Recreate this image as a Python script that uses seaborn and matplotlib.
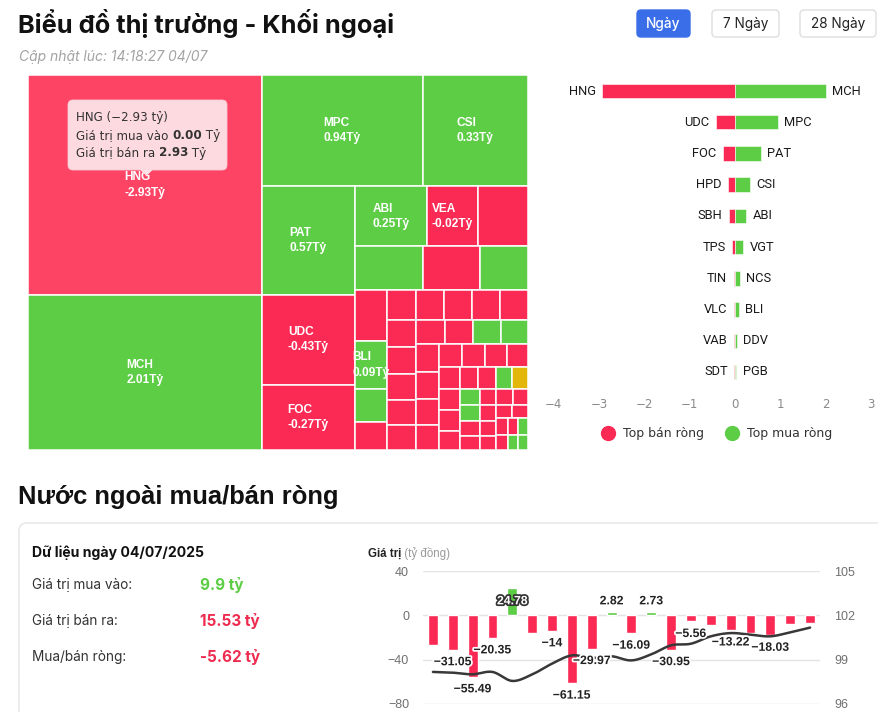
import numpy as np
import pandas as pd
import matplotlib
matplotlib.use("Agg")
import matplotlib.pyplot as plt
import seaborn as sns
from matplotlib.patches import Rectangle, FancyBboxPatch, Polygon
from matplotlib.lines import Line2D
import matplotlib.patheffects as pe

# ---------------- data ----------------
title_main = "Biểu đồ thị trường - Khối ngoại"
updated_text = "Cập nhật lúc: 14:18:27 04/07"
range_buttons = ["Ngày", "7 Ngày", "28 Ngày"]
section_title = "Nước ngoài mua/bán ròng"

# treemap: named (labelled) cells
tm_names = ["HNG", "MCH", "MPC", "CSI", "PAT", "UDC", "FOC", "ABI", "VEA", "BLI"]
tm_net = [-2.93, 2.01, 0.94, 0.33, 0.57, -0.43, -0.27, 0.25, -0.02, 0.09]
tm_size = [52800, 37200, 18300, 12000, 10416, 8649, 6231, 4473, 3213, 1568]
# treemap: small unlabelled cells (size, net)
tm_other_size = [3087, 3060, 2520, 2160, 1665, 1092, 900, 880, 868, 860, 858, 840, 820, 800,
                 780, 760, 740, 720, 700, 690, 670, 650, 630, 610, 590, 570, 550, 530, 510,
                 490, 470, 450, 430, 410, 390, 370, 350, 330, 310, 300, 290, 280, 270, 260,
                 250, 240, 230, 220, 210, 200, 190, 180, 170, 160, 155]
tm_other_net = [-0.05, 0.06, -0.04, 0.05, -0.03, 0.03, -0.02, -0.02, -0.02, -0.02, -0.02, -0.02,
                -0.02, -0.02, -0.02, -0.02, -0.02, -0.02, -0.01, 0.02, 0.02, -0.01, -0.01, -0.01,
                -0.01, -0.01, -0.01, -0.01, -0.01, -0.01, -0.01, -0.01, -0.01, -0.01, -0.01, 0.01,
                0.0, 0.01, 0.01, -0.01, -0.01, -0.01, -0.01, -0.01, -0.01, -0.01, -0.01, -0.01,
                -0.01, -0.01, -0.01, -0.01, 0.01, 0.01, 0.01]
tm_hover = "HNG"
tooltip_buy = 0.00
tooltip_sell = 2.93

# butterfly bars
sell_names = ["HNG", "UDC", "FOC", "HPD", "SBH", "TPS", "TIN", "VLC", "VAB", "SDT"]
sell_values = [-2.93, -0.43, -0.27, -0.16, -0.14, -0.07, -0.03, -0.03, -0.02, -0.02]
buy_names = ["MCH", "MPC", "PAT", "CSI", "ABI", "VGT", "NCS", "BLI", "DDV", "PGB"]
buy_values = [2.01, 0.94, 0.57, 0.33, 0.25, 0.18, 0.11, 0.09, 0.04, 0.03]
bar_ticks = [-4, -3, -2, -1, 0, 1, 2, 3]
legend_labels = ["Top bán ròng", "Top mua ròng"]

# daily summary
summary_title = "Dữ liệu ngày 04/07/2025"
summary_labels = ["Giá trị mua vào:", "Giá trị bán ra:", "Mua/bán ròng:"]
summary_values = ["9.9 tỷ", "15.53 tỷ", "-5.62 tỷ"]

# net buy/sell history
net_days = ["09/06", "10/06", "11/06", "12/06", "13/06", "16/06", "17/06", "18/06", "19/06", "20/06",
            "23/06", "24/06", "25/06", "26/06", "27/06", "30/06", "01/07", "02/07", "03/07", "04/07"]
net_values = [-27.0, -31.05, -55.49, -20.35, 24.78, -16.2, -14.0, -61.15, -29.97, 2.82,
              -16.09, 2.73, -30.95, -5.56, -9.0, -13.22, -15.8, -18.03, -7.5, -6.5]
net_label_shown = [False, True, True, True, True, False, True, True, True, True,
                   True, True, True, True, False, True, False, True, False, False]
index_values = [98.17, 98.12, 98.01, 98.17, 97.56, 98.0, 98.73, 99.29, 99.11, 99.23,
                98.95, 99.36, 99.97, 100.08, 100.58, 100.80, 100.69, 100.58, 100.85, 101.17]
left_ticks = [-80, -40, 0, 40]
right_ticks = [96, 99, 102, 105]

# ---------------- style ----------------
RED = "#fa2a54"
RED_HOVER = "#fe4465"
GREEN = "#5ccd45"
YELLOW = "#e3b70a"
BLUE = "#3a6ee8"

sns.set_theme(style="white")
plt.rcParams["font.family"] = ["DejaVu Sans"]
F_UI = ["Inter", "DejaVu Sans"]
F_AR = ["Liberation Sans", "DejaVu Sans"]
F_NAR = ["Liberation Sans Narrow", "Liberation Sans", "DejaVu Sans"]
F_DV = ["DejaVu Sans"]
F_RB = ["Roboto", "DejaVu Sans"]

W, H = 879, 712
fig = plt.figure(figsize=(W / 100, H / 100), dpi=100)
fig.patch.set_facecolor("white")


def ax_px(left, top, width, height, **kw):
    return fig.add_axes([left / W, 1 - (top + height) / H, width / W, height / H], **kw)


bg = ax_px(0, 0, W, H)
bg.set_xlim(0, W)
bg.set_ylim(H, 0)
bg.axis("off")
bg.set_zorder(0)

renderer = fig.canvas.get_renderer()


def draw_segments(ax, x, y, segs, size, family, va="center"):
    cur = x
    inv = ax.transData.inverted()
    for s, weight, color in segs:
        t = ax.text(cur, y, s, fontsize=size, fontweight=weight, color=color,
                    family=family, ha="left", va=va, clip_on=False, zorder=20)
        bb = t.get_window_extent(renderer=renderer)
        x0 = inv.transform((bb.x0, bb.y0))[0]
        x1 = inv.transform((bb.x1, bb.y0))[0]
        cur += (x1 - x0)
    return cur


# ---------------- header ----------------
bg.text(18, 24, title_main, fontsize=18.3, fontweight="bold", family=F_UI, color="#111", va="center")
bg.text(19, 57, updated_text, fontsize=10, style="italic", family=F_UI, color="#a3a3a3", va="center")
btn_boxes = [(637, 53), (712, 67), (800, 76)]
for (bx, bw), lab, active in zip(btn_boxes, range_buttons, [True, False, False]):
    bg.add_patch(FancyBboxPatch((bx, 10), bw, 27, boxstyle="round,pad=0,rounding_size=4",
                                facecolor=BLUE if active else "white",
                                edgecolor=BLUE if active else "#dedede", lw=1))
    bg.text(bx + bw / 2, 23.5, lab, ha="center", va="center", fontsize=9.8, family=F_UI,
            color="white" if active else "#222", fontweight="medium" if active else "normal")

# ---------------- treemap ----------------
def squarify(sizes, x, y, w, h):
    total = float(sum(sizes))
    areas = [s * w * h / total for s in sizes]
    rects = []
    i = 0
    rx, ry, rw, rh = x, y, w, h
    while i < len(areas):
        side = min(rw, rh)

        def worst(row):
            s = sum(row)
            return max(side * side * max(row) / (s * s), s * s / (side * side * min(row)))

        row = [areas[i]]
        i += 1
        while i < len(areas) and worst(row + [areas[i]]) <= worst(row):
            row.append(areas[i])
            i += 1
        s = sum(row)
        thick = s / side
        if i >= len(areas):
            thick = rw if rw >= rh else rh
        if rw >= rh:
            yy = ry
            for a in row:
                hh = a / s * rh
                rects.append((rx, yy, thick, hh))
                yy += hh
            rx += thick
            rw -= thick
        else:
            xx = rx
            for a in row:
                ww = a / s * rw
                rects.append((xx, ry, ww, thick))
                xx += ww
            ry += thick
            rh -= thick
    return rects


TMX, TMY, TMW, TMH = 28, 75, 500, 375
tx = ax_px(TMX, TMY, TMW, TMH)
tx.set_xlim(0, TMW)
tx.set_ylim(TMH, 0)
tx.axis("off")
tx.set_zorder(2)

all_names = tm_names + [""] * len(tm_other_size)
all_net = tm_net + tm_other_net
all_size = tm_size + tm_other_size
order = sorted(range(len(all_size)), key=lambda k: -all_size[k])
rects = squarify([all_size[k] for k in order], 0, 0, TMW, TMH)
for k, (x, y, w, h) in zip(order, rects):
    v = all_net[k]
    if all_names[k] == tm_hover:
        col = RED_HOVER
    elif v < 0:
        col = RED
    elif v > 0:
        col = GREEN
    else:
        col = YELLOW
    tx.add_patch(Rectangle((x, y), w, h, facecolor=col, edgecolor="white", lw=1.1))
for k, (x, y, w, h) in zip(order, rects):
    if all_names[k]:
        tx.text(x + w / 2, y + h / 2, f"{all_names[k]}\n{all_net[k]:.2f}Tỷ", ha="center", va="center",
                multialignment="left", color="white", fontsize=8.6, fontweight="bold",
                family=F_AR, linespacing=1.35, zorder=5)

# tooltip
tx.add_patch(FancyBboxPatch((68 - TMX, 100 - TMY), 159, 70, boxstyle="round,pad=0,rounding_size=5",
                            facecolor="#fde0e5", edgecolor="#f5c9d0", lw=0.6, alpha=0.97, zorder=10))
tx.add_patch(Polygon([(140 - TMX, 169.5 - TMY), (153 - TMX, 169.5 - TMY), (146.5 - TMX, 176 - TMY)],
                     closed=True, facecolor="#fde0e5", edgecolor="none", zorder=10))
hv = tm_net[tm_names.index(tm_hover)]
draw_segments(tx, 76 - TMX, 118 - TMY, [(f"{tm_hover} ({hv:.2f} tỷ)".replace("-", "−"), "normal", "#333")], 8.6, F_DV)
draw_segments(tx, 76 - TMX, 135.5 - TMY, [("Giá trị mua vào ", "normal", "#333"), (f"{tooltip_buy:.2f}", "bold", "#333"),
                                          (" Tỷ", "normal", "#333")], 8.6, F_DV)
draw_segments(tx, 76 - TMX, 153 - TMY, [("Giá trị bán ra ", "normal", "#333"), (f"{tooltip_sell:.2f}", "bold", "#333"),
                                        (" Tỷ", "normal", "#333")], 8.6, F_DV)

# ---------------- butterfly bar chart ----------------
zero_x, ppu = 735, 45.3
axb = ax_px(zero_x - 4 * ppu, 75.4, 7 * ppu, 312.2)
axb.patch.set_alpha(0)
axb.set_zorder(2)
sns.barplot(x=sell_values, y=sell_names, order=sell_names, color=RED, saturation=1,
            width=0.46, edgecolor="white", linewidth=0.4, orient="h", ax=axb)
sns.barplot(x=buy_values, y=sell_names, order=sell_names, color=GREEN, saturation=1,
            width=0.46, edgecolor="white", linewidth=0.4, orient="h", ax=axb)
axb.set_xlim(-4, 3)
axb.set_ylim(9.5, -0.5)
axb.set_xticks(bar_ticks)
axb.set_xticklabels([str(t).replace("-", "−") for t in bar_ticks], family=F_DV)
axb.set_yticks([])
axb.set_xlabel("")
axb.set_ylabel("")
for s in axb.spines.values():
    s.set_visible(False)
axb.tick_params(axis="x", length=0, pad=7.5, labelsize=8.5, labelcolor="#8a8a8a")
for i, (n, v) in enumerate(zip(sell_names, sell_values)):
    axb.annotate(n, (v, i), xytext=(-4.6, 0), textcoords="offset points", ha="right", va="center",
                 fontsize=9.3, family=F_RB, color="#1a1a1a")
for i, (n, v) in enumerate(zip(buy_names, buy_values)):
    axb.annotate(n, (v, i), xytext=(4.6, 0), textcoords="offset points", ha="left", va="center",
                 fontsize=9.3, family=F_RB, color="#1a1a1a")
handles = [Line2D([], [], marker="o", ls="none", markersize=10, color=c) for c in (RED, GREEN)]
leg = axb.legend(handles, legend_labels, loc="center", bbox_to_anchor=(714 / W, 1 - 434 / H),
                 bbox_transform=fig.transFigure, ncol=2, frameon=False, handletextpad=0.2,
                 columnspacing=1.3, prop={"family": F_DV, "size": 9})
for t in leg.get_texts():
    t.set_color("#333")

# ---------------- section 2 ----------------
bg.text(18, 497, section_title, fontsize=18.4, fontweight="bold", family=F_NAR, color="#111", va="center")
bg.add_patch(FancyBboxPatch((19, 523), 900, 260, boxstyle="round,pad=0,rounding_size=8",
                            facecolor="white", edgecolor="#e6e6e6", lw=1))
bg.text(32, 552.5, summary_title, fontsize=10.1, fontweight="bold", family=F_UI, color="#111", va="center")
val_colors = [GREEN, "#ee2c50", "#ee2c50"]
for k, (lab, val, c) in enumerate(zip(summary_labels, summary_values, val_colors)):
    yy = 585 + k * 36
    bg.text(32, yy, lab, fontsize=9.8, family=F_UI, color="#333", va="center")
    bg.text(200, yy, val, fontsize=11, fontweight="bold", family=F_UI, color=c, va="center")

draw_segments(bg, 368, 554, [("Giá trị", "bold", "#222"), (" (tỷ đồng)", "normal", "#9a9a9a")], 8.3, F_AR)

axn = ax_px(423, 571, 397, 133)
axn.patch.set_alpha(0)
axn.set_zorder(2)
signs = ["mua" if v > 0 else "bán" for v in net_values]
sns.barplot(x=net_days, y=net_values, hue=signs, palette={"mua": GREEN, "bán": RED}, saturation=1,
            dodge=False, width=0.5, legend=False, ax=axn)
axn.set_ylim(-80, 40)
axn.set_xlim(-0.5, len(net_days) - 0.5)
axn.set_yticks(left_ticks)
axn.set_yticklabels([str(t).replace("-", "−") for t in left_ticks], family=F_AR)
axn.set_xticks([])
axn.set_xlabel("")
axn.set_ylabel("")
axn.grid(axis="y", color="#e3e3e3", lw=1)
axn.set_axisbelow(True)
for s in axn.spines.values():
    s.set_visible(False)
axn.tick_params(axis="y", length=0, pad=10, labelsize=9, labelcolor="#707070")

ax2 = axn.twinx()
ax2.set_ylim(96, 105)
ax2.set_yticks(right_ticks)
ax2.set_yticklabels([str(t) for t in right_ticks], family=F_AR)
for s in ax2.spines.values():
    s.set_visible(False)
ax2.tick_params(axis="y", length=0, pad=10, labelsize=9, labelcolor="#707070")
ax2.grid(False)


def catmull(xs, ys, n=16):
    pts = np.column_stack([xs, ys]).astype(float)
    P = np.vstack([pts[0], pts, pts[-1]])
    out = []
    t = np.linspace(0, 1, n, endpoint=False)[:, None]
    for i in range(1, len(P) - 2):
        p0, p1, p2, p3 = P[i - 1], P[i], P[i + 1], P[i + 2]
        out.append(0.5 * (2 * p1 + (-p0 + p2) * t + (2 * p0 - 5 * p1 + 4 * p2 - p3) * t ** 2
                          + (-p0 + 3 * p1 - 3 * p2 + p3) * t ** 3))
    out.append(pts[-1:])
    return np.vstack(out)


curve = catmull(np.arange(len(index_values)), index_values)
ax2.plot(curve[:, 0], curve[:, 1], color="#383838", lw=1.8, zorder=3)

px_per_unit = 133 / 120.0
for i, (v, show) in enumerate(zip(net_values, net_label_shown)):
    if not show:
        continue
    txt = f"{v:g}" if float(v).is_integer() else f"{v:.2f}"
    txt = txt.replace("-", "−")
    if v < 0:
        off = -12.5 * 0.72
        inside = False
        yv = v
    else:
        off = 14 * 0.72
        yv = 0
        inside = v * px_per_unit > 20
    fc, ec = ("white", "#333") if inside else ("#222", "white")
    ax2.annotate(txt, xy=(i, yv), xycoords=axn.transData, xytext=(0, off), textcoords="offset points",
                 ha="center", va="center", fontsize=8.8, fontweight="bold", family=F_AR, color=fc,
                 path_effects=[pe.withStroke(linewidth=2.5, foreground=ec)], zorder=6)

fig.savefig("out.png", dpi=100, facecolor="white")
